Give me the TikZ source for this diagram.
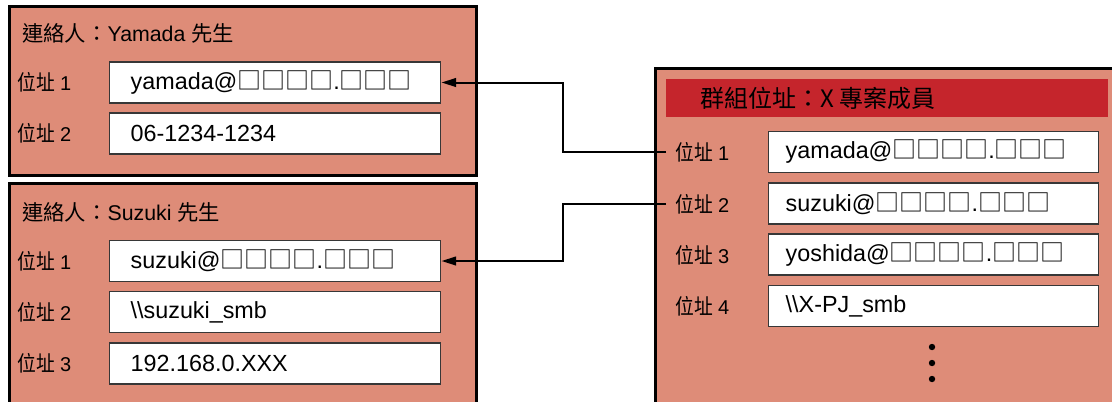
\documentclass[tikz,border=0pt]{standalone}
\usepackage{fontspec}
\setmainfont{Liberation Sans}
\newfontfamily\cjk{Noto Sans CJK TC}
\newfontfamily\cjklbl[FakeStretch=0.88]{Noto Sans CJK TC}
\usetikzlibrary{arrows.meta}
\definecolor{boxfill}{RGB}{222,140,120}
\definecolor{hdrred}{RGB}{197,37,44}
\definecolor{fieldedge}{RGB}{55,55,55}
\newcommand\blk{{\cjk\fontsize{18}{20}\selectfont □}}
\newcommand\addrlbl[1]{{\cjklbl\fontsize{16}{18}\selectfont 位址} {\fontsize{15}{16}\selectfont #1}}
\begin{document}
\begin{tikzpicture}[x=0.75pt,y=-0.75pt,
  panel/.style={draw=black,line width=2.25pt,fill=boxfill,rectangle,inner sep=0pt,anchor=north west},
  header/.style={fill=hdrred,rectangle,inner sep=0pt,anchor=north west,minimum width=442*0.75pt,minimum height=38*0.75pt},
  field/.style={draw=fieldedge,line width=1.1pt,fill=white,rectangle,anchor=west,minimum height=41*0.75pt,inner ysep=0pt,align=left,font=\fontsize{17.5}{20}\selectfont},
  lfield/.style={field,inner xsep=21*0.75pt,text width=289*0.75pt},
  rfield/.style={field,inner xsep=17*0.75pt,text width=296*0.75pt},
  ptitle/.style={anchor=west,inner sep=0pt,font=\fontsize{16}{19}\selectfont},
  lbl/.style={anchor=west,inner sep=0pt,font=\fontsize{14}{16}\selectfont},
  rlbl/.style={lbl,inner xsep=9*0.75pt},
  conn/.style={line width=1.5pt,-{Triangle[length=11pt,width=6.5pt]}}
]
\useasboundingbox (0,0) rectangle (1112,401);
\clip (0,0) rectangle (1112,401);
\fill[white] (0,0) rectangle (1112,401);

% panels
\node[panel,minimum width=467*0.75pt,minimum height=169*0.75pt] (c1) at (8,5) {};
\node[panel,minimum width=467*0.75pt,minimum height=240*0.75pt] (c2) at (8,182) {};
\node[panel,minimum width=480*0.75pt,minimum height=350*0.75pt] (grp) at (654,67) {};
\node[header] (hdr) at (666,79) {};
\node[ptitle,font=\cjk\fontsize{18}{21}\selectfont] (hdrtext) at (700,98) {群組位址：X 專案成員};

% titles
\node[ptitle] (t1) at (22,33) {{\cjk 連絡人：}Yamada {\cjk 先生}};
\node[ptitle] (t2) at (22,212) {{\cjk 連絡人：}Suzuki {\cjk 先生}};

% left labels
\node[lbl] (a1l) at (17,82.5) {\addrlbl{1}};
\node[lbl] (a2l) at (17,133.5) {\addrlbl{2}};
\node[lbl] (b1l) at (17,261) {\addrlbl{1}};
\node[lbl] (b2l) at (17,312) {\addrlbl{2}};
\node[lbl] (b3l) at (17,363.5) {\addrlbl{3}};

% left fields
\node[lfield] (a1) at (109,82.5) {yamada@\blk\blk\blk\blk.\blk\blk\blk};
\node[lfield] (a2) at (109,133.5) {06-1234-1234};
\node[lfield] (b1) at (109,261) {suzuki@\blk\blk\blk\blk.\blk\blk\blk};
\node[lfield] (b2) at (109,312) {\textbackslash\textbackslash suzuki\_smb};
\node[lfield] (b3) at (109,363.5) {192.168.0.XXX};

% right labels
\node[rlbl] (g1l) at (666,152) {\addrlbl{1}};
\node[rlbl] (g2l) at (666,204) {\addrlbl{2}};
\node[rlbl] (g3l) at (666,255) {\addrlbl{3}};
\node[rlbl] (g4l) at (666,306) {\addrlbl{4}};

% right fields
\node[rfield] (g1) at (768,152) {yamada@\blk\blk\blk\blk.\blk\blk\blk};
\node[rfield] (g2) at (768,203.5) {suzuki@\blk\blk\blk\blk.\blk\blk\blk};
\node[rfield] (g3) at (768,254.5) {yoshida@\blk\blk\blk\blk.\blk\blk\blk};
\node[rfield] (g4) at (768,306) {\textbackslash\textbackslash X-PJ\_smb};

% dots
\foreach \yy in {347,363,379} \fill (932,\yy) circle[radius=2.4pt];

% connectors
\coordinate (jx) at (563,0);
\draw[conn] (g1l.west) -- (jx |- g1l.west) |- (a1.east);
\draw[conn] (g2l.west) -- (jx |- g2l.west) |- (b1.east);
\end{tikzpicture}
\end{document}
